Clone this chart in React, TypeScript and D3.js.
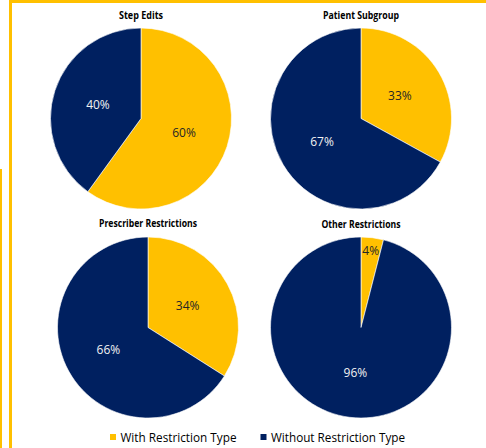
import React from "react";
import * as d3 from "d3";

const chartTitles = ["Step Edits", "Patient Subgroup", "Prescriber Restrictions", "Other Restrictions"];
const withRestriction = [60, 33, 34, 4];
const withoutRestriction = [40, 67, 66, 96];
const seriesNames = ["With Restriction Type", "Without Restriction Type"];
const seriesColors = ["#FFC000", "#002060"];
const labelColors = ["#262626", "#F2F2F2"];

const W = 486;
const H = 448;
const R = 90.5;
const centers: [number, number][] = [
  [141, 118.5],
  [361, 118.5],
  [148, 327.5],
  [361, 327.5],
];
const titleY = [18.5, 18.5, 227, 227.5];
const titleWidths = [44, 76, 98, 79];
const legendWidths = [116, 134];

export default function App() {
  const pie = d3
    .pie<number>()
    .sort(null)
    .value((d) => d)
    .startAngle(0)
    .endAngle(2 * Math.PI);
  const arc = d3.arc<d3.PieArcDatum<number>>().innerRadius(0).outerRadius(R);
  const labelArc = d3.arc<d3.PieArcDatum<number>>().innerRadius(R * 0.5).outerRadius(R * 0.5);
  const smallLabelArc = d3.arc<d3.PieArcDatum<number>>().innerRadius(R * 0.86).outerRadius(R * 0.86);

  const legendX = d3.scaleOrdinal<string, number>().domain(seriesNames).range([110, 260.5]);

  return (
    <svg
      width={W}
      height={H}
      style={{ position: "absolute", left: 0, top: 0, background: "#fff" }}
      fontFamily="'Open Sans', sans-serif"
    >
      <rect x={0} y={0} width={W} height={H} fill="#fff" />
      <rect x={9} y={0} width={W - 9} height={3} fill="#FFC000" />
      <rect x={9} y={0} width={3} height={H} fill="#FFC000" />
      <rect x={0} y={169} width={2} height={H - 169} fill="#FFC000" />
      {chartTitles.map((t, i) => {
        const [cx, cy] = centers[i];
        const arcs = pie([withRestriction[i], withoutRestriction[i]]);
        const total = withRestriction[i] + withoutRestriction[i];
        return (
          <g key={t}>
            <text
              x={cx}
              y={titleY[i]}
              textAnchor="middle"
              fontSize={10}
              fontWeight="bold"
              fill="#000"
              textLength={titleWidths[i]}
              lengthAdjust="spacingAndGlyphs"
            >
              {t}
            </text>
            <g transform={`translate(${cx},${cy})`}>
              {arcs.map((a, j) => (
                <path key={j} d={arc(a) || ""} fill={seriesColors[j]} stroke="#fff" strokeWidth={0.6} />
              ))}
              {arcs.map((a, j) => {
                const frac = a.data / total;
                const [lx, ly] = frac < 0.1 ? smallLabelArc.centroid(a) : labelArc.centroid(a);
                return (
                  <text
                    key={"l" + j}
                    x={lx}
                    y={ly}
                    dy="0.36em"
                    textAnchor="middle"
                    fontSize={12}
                    fill={labelColors[j]}
                  >
                    {`${a.data}%`}
                  </text>
                );
              })}
            </g>
          </g>
        );
      })}
      {seriesNames.map((s, i) => (
        <g key={s}>
          <rect x={legendX(s)} y={434} width={6} height={6} fill={seriesColors[i]} />
          <text
            x={legendX(s) + 10.5}
            y={441.5}
            fontSize={12}
            fill="#000"
            textLength={legendWidths[i]}
            lengthAdjust="spacingAndGlyphs"
          >
            {s}
          </text>
        </g>
      ))}
    </svg>
  );
}
